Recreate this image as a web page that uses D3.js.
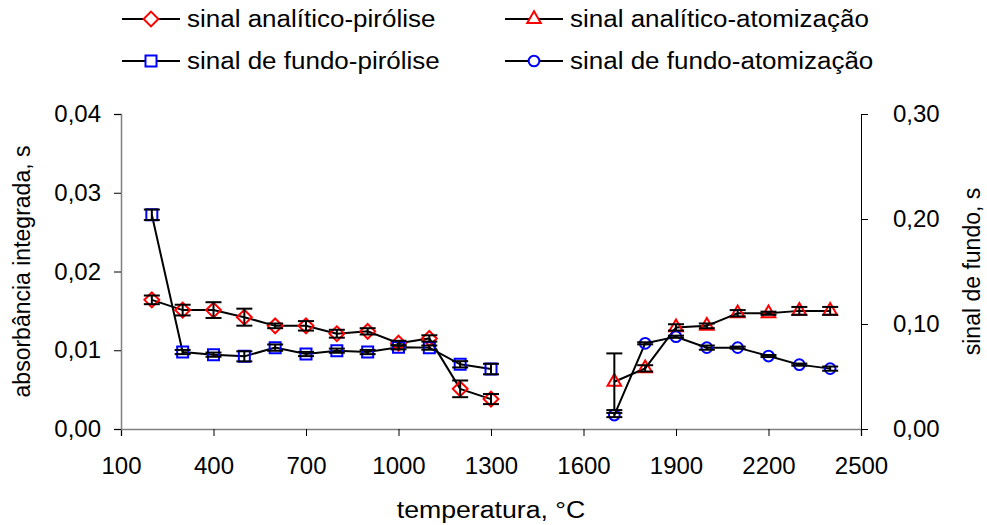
<!DOCTYPE html>
<html lang="pt">
<head>
    <meta charset="UTF-8">
    <title>Sinal analítico e de fundo vs temperatura</title>
    <script src="https://d3js.org/d3.v7.min.js"></script>
    <style>
        body { margin: 0; background: #fff; }
        svg text { font-family: "Liberation Sans", Arial, sans-serif; fill: #000; }
    </style>
</head>
<body>
    <div id="chart"></div>

    <script>
        // temperatures (°C)
        const tempPirolise = [200, 300, 400, 500, 600, 700, 800, 900, 1000, 1100, 1200, 1300];
        const tempAtomizacao = [1700, 1800, 1900, 2000, 2100, 2200, 2300, 2400];

        // sinal analítico (left axis) and sinal de fundo (right axis), with error bars
        const analiticoPirolise = [0.0164, 0.0151, 0.0151, 0.0142, 0.0131, 0.0131, 0.0121, 0.0124, 0.0109, 0.0115, 0.0051, 0.0038];
        const analiticoPiroliseErr = [0.00055, 0.00068, 0.0010, 0.00108, 0.0003, 0.0006, 0.0005, 0.0004, 0.0003, 0.0004, 0.00106, 0.00064];
        const fundoPirolise = [0.204, 0.0733, 0.0708, 0.0692, 0.0775, 0.0714, 0.0746, 0.0733, 0.0778, 0.0775, 0.0616, 0.0571];
        const fundoPiroliseErr = [0.005, 0.002, 0.002, 0.0048, 0.003, 0.002, 0.002, 0.002, 0.002, 0.002, 0.003, 0.005];

        const analiticoAtomizacao = [0.0060, 0.0077, 0.0129, 0.0131, 0.0147, 0.0147, 0.0150, 0.0150];
        const analiticoAtomizacaoErr = [0.0036, 0.0004, 0.0004, 0.0003, 0.0004, 0.0002, 0.0005, 0.0005];
        const fundoAtomizacao = [0.0133, 0.0816, 0.0879, 0.0775, 0.0775, 0.0695, 0.0613, 0.0575];
        const fundoAtomizacaoErr = [0.002, 0.001, 0.001, 0.002, 0.001, 0.001, 0.001, 0.002];

        const xTicks = [100, 400, 700, 1000, 1300, 1600, 1900, 2200, 2500];
        const yLeftTicks = [0, 0.01, 0.02, 0.03, 0.04];
        const yRightTicks = [0, 0.10, 0.20, 0.30];

        const width = 987, height = 525;
        const plot = { left: 121, right: 861, top: 114, bottom: 429 };

        const svg = d3.select("#chart").append("svg")
            .attr("width", width)
            .attr("height", height);

        const x = d3.scaleLinear().domain([100, 2500]).range([plot.left, plot.right]);
        const yL = d3.scaleLinear().domain([0, 0.04]).range([plot.bottom, plot.top]);
        const yR = d3.scaleLinear().domain([0, 0.30]).range([plot.bottom, plot.top]);

        const comma = f => v => d3.format(f)(v).replace(".", ",");
        const tickFont = 24, textFont = 23, stretch = 1.13;

        // axes
        const gx = svg.append("g")
            .attr("transform", `translate(0,${plot.bottom})`)
            .call(d3.axisBottom(x).tickValues(xTicks).tickSize(7).tickPadding(21).tickFormat(d3.format("d")));
        const gl = svg.append("g")
            .attr("transform", `translate(${plot.left},0)`)
            .call(d3.axisLeft(yL).tickValues(yLeftTicks).tickSize(7).tickPadding(13).tickFormat(comma(".2f")));
        const gr = svg.append("g")
            .attr("transform", `translate(${plot.right},0)`)
            .call(d3.axisRight(yR).tickValues(yRightTicks).tickSize(7).tickPadding(25).tickFormat(comma(".2f")));

        [gx, gl, gr].forEach(g => {
            g.select(".domain").attr("stroke", "#808080").attr("stroke-width", 1.5);
            g.selectAll(".tick line").attr("stroke", "#000");
            g.selectAll("text").style("font-size", tickFont + "px").attr("font-family", null);
        });
        gr.select(".domain").attr("stroke", "#000").attr("stroke-width", 1);

        // axis titles
        svg.append("text")
            .attr("transform", `translate(${(plot.left + plot.right) / 2},518) scale(1.16,1)`)
            .attr("text-anchor", "middle")
            .style("font-size", textFont + "px")
            .text("temperatura, °C");
        svg.append("text")
            .attr("transform", `translate(30,${(plot.top + plot.bottom) / 2}) rotate(-90)`)
            .attr("text-anchor", "middle")
            .style("font-size", textFont + "px")
            .text("absorbância integrada, s");
        svg.append("text")
            .attr("transform", `translate(980,${(plot.top + plot.bottom) / 2}) rotate(-90)`)
            .attr("text-anchor", "middle")
            .style("font-size", textFont + "px")
            .text("sinal de fundo, s");

        // wide diamond (square rotated 45°)
        const symbolRhombus = {
            draw(ctx, size) {
                const r = Math.sqrt(size / 2);
                ctx.moveTo(0, -r);
                ctx.lineTo(r, 0);
                ctx.lineTo(0, r);
                ctx.lineTo(-r, 0);
                ctx.closePath();
            }
        };

        const series = [
            { name: "sinal analítico-pirólise", xs: tempPirolise, ys: analiticoPirolise, err: analiticoPiroliseErr, y: yL, symbol: symbolRhombus, size: 110, color: "#ff0000" },
            { name: "sinal de fundo-pirólise", xs: tempPirolise, ys: fundoPirolise, err: fundoPiroliseErr, y: yR, symbol: d3.symbolSquare, size: 121, color: "#0000ff" },
            { name: "sinal analítico-atomização", xs: tempAtomizacao, ys: analiticoAtomizacao, err: analiticoAtomizacaoErr, y: yL, symbol: d3.symbolTriangle, size: 80, color: "#ff0000" },
            { name: "sinal de fundo-atomização", xs: tempAtomizacao, ys: fundoAtomizacao, err: fundoAtomizacaoErr, y: yR, symbol: d3.symbolCircle, size: 90, color: "#0000ff" }
        ];

        const line = (s) => d3.line().x((d, i) => x(s.xs[i])).y(d => s.y(d));

        // lines
        series.forEach(s => {
            svg.append("path")
                .attr("d", line(s)(s.ys))
                .attr("fill", "none")
                .attr("stroke", "#000")
                .attr("stroke-width", 2);
        });

        // markers
        series.forEach(s => {
            svg.append("g").selectAll("path")
                .data(s.ys)
                .join("path")
                .attr("transform", (d, i) => `translate(${x(s.xs[i])},${s.y(d)})`)
                .attr("d", d3.symbol().type(s.symbol).size(s.size))
                .attr("fill", "none")
                .attr("stroke", s.color)
                .attr("stroke-width", 2);
        });

        // error bars
        series.forEach(s => {
            const g = svg.append("g").attr("stroke", "#000").attr("stroke-width", 2);
            s.ys.forEach((d, i) => {
                const cx = x(s.xs[i]);
                const y0 = s.y(d - s.err[i]), y1 = s.y(d + s.err[i]);
                g.append("line").attr("x1", cx).attr("x2", cx).attr("y1", y0).attr("y2", y1);
                g.append("line").attr("x1", cx - 8).attr("x2", cx + 8).attr("y1", y0).attr("y2", y0);
                g.append("line").attr("x1", cx - 8).attr("x2", cx + 8).attr("y1", y1).attr("y2", y1);
            });
        });

        // legend
        const legendPos = [[122, 19], [122, 61], [505, 19], [505, 61]];
        series.forEach((s, i) => {
            const [lx, ly] = legendPos[i];
            const g = svg.append("g").attr("transform", `translate(${lx},${ly})`);
            g.append("line").attr("x1", 0).attr("x2", 58).attr("stroke", "#000").attr("stroke-width", 2);
            g.append("path")
                .attr("transform", "translate(29,0)")
                .attr("d", d3.symbol().type(s.symbol).size(s.size))
                .attr("fill", "#fff")
                .attr("stroke", s.color)
                .attr("stroke-width", 2);
            g.append("text")
                .attr("transform", `translate(65,0) scale(${stretch},1)`)
                .attr("dy", "0.35em")
                .style("font-size", textFont + "px")
                .text(s.name);
        });
    </script>
</body>
</html>
